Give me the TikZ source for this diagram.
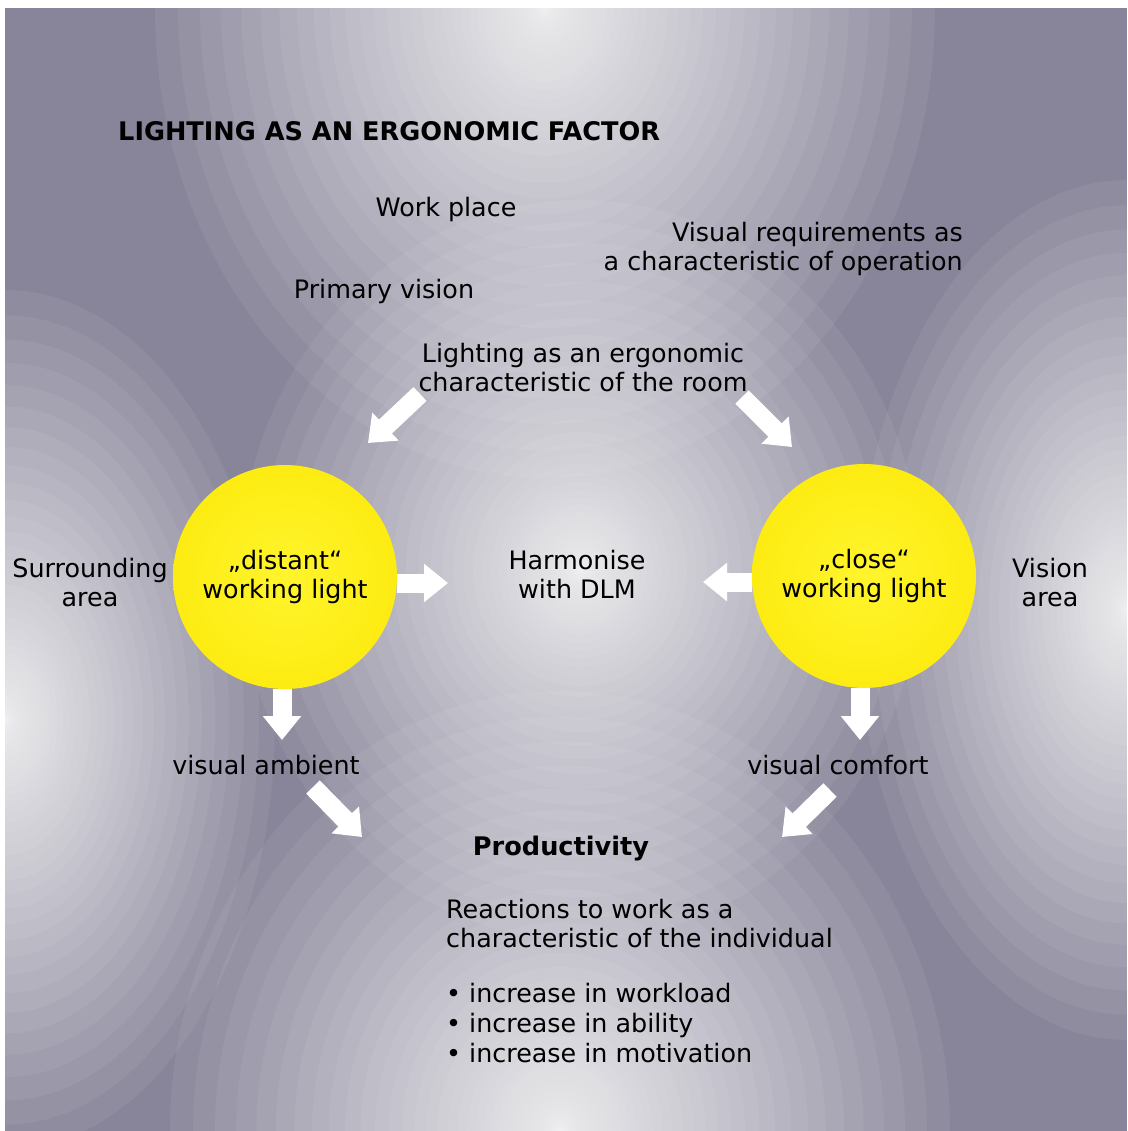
\documentclass[tikz,border=0pt]{standalone}
\usepackage{fontspec}
\setmainfont{DejaVu Sans}
\usetikzlibrary{arrows.meta}

\definecolor{steel}{RGB}{136,133,154}
\definecolor{lampin}{RGB}{255,244,45}
\definecolor{lampout}{RGB}{253,236,18}

\tikzstyle{label}=[font=\fontsize{25.4}{29}\selectfont, align=center, inner sep=0pt]
\tikzstyle{heading}=[font=\fontsize{25.6}{29}\selectfont\bfseries, inner sep=0pt]
\tikzstyle{lamp}=[circle, minimum size=224pt, inner sep=0pt, inner color=lampin, outer color=lampout,
                  font=\fontsize{25.4}{29}\selectfont, align=center]
\tikzstyle{blockarrow}=[draw=white, line width=19pt, -{Triangle[length=24pt,width=37pt]}]
\tikzstyle{glow}=[fill=white, fill opacity=0.06]

\begin{document}
\begin{tikzpicture}[x=1pt, y=-1pt]
                  \useasboundingbox (0,0) rectangle (1127,1131);
                  % Background with light spots
                  \fill[steel] (5,8) rectangle (1127,1131);
                  \begin{scope}
                        \clip (5,8) rectangle (1127,1131);
                        \foreach \cx/\cy/\rx/\ry in {545/8/390/470, 580/570/340/370,
                        560/1131/390/440, 5/720/270/430, 1127/610/270/430}
                              \foreach \k in {1,...,50}
                                    \fill[glow] (\cx,\cy) ellipse [x radius={\rx*(\k/50)^3}, y radius={\ry*(\k/50)^3}];
                  \end{scope}
                  % Texts
                  \node[heading, anchor=west] (title) at (118,131) {LIGHTING AS AN ERGONOMIC FACTOR};
                  \node[label] (work) at (446,209) {Work place};
                  \node[label, anchor=east, align=right] (visreq) at (963,249)
                        {Visual requirements as\\a characteristic of operation};
                  \node[label] (primary) at (384,291) {Primary vision};
                  \node[label] (room) at (583,368) {Lighting as an ergonomic\\characteristic of the room};
                  \node[label] (surround) at (90,583) {Surrounding\\area};
                  \node[label] (harmonise) at (577,574) {Harmonise\\with DLM};
                  \node[label] (vision) at (1050,583) {Vision\\area};
                  \node[label] (ambient) at (266,765) {visual ambient};
                  \node[label] (comfort) at (838,765) {visual comfort};
                  \node[heading] (prod) at (561,849) {Productivity};
                  \node[label, anchor=west, align=left] (reactions) at (446,924)
                        {Reactions to work as a\\characteristic of the individual};
                  \node[label, anchor=north west, align=left, font=\fontsize{25.4}{30}\selectfont] (gains) at (446,983)
                        {• increase in workload\\• increase in ability\\• increase in motivation};
                  % The two working lights
                  \node[lamp] (distant) at (285,577) {„distant“\\working light};
                  \node[lamp] (close) at (864,576) {„close“\\working light};
                  % Arrow ends
                  \coordinate (tlA) at (420,394);  \coordinate (tlB) at (368,443);
                  \coordinate (trA) at (742,397);  \coordinate (trB) at (792,447);
                  \coordinate (hlB) at (448,583);  \coordinate (hrB) at (703,582);
                  \coordinate (dlB) at (282,740);  \coordinate (drB) at (860,740);
                  \coordinate (blA) at (313,787);  \coordinate (blB) at (362,837);
                  \coordinate (brA) at (830,790);  \coordinate (brB) at (782,837);
                  % Block arrows
                  \foreach \source/\dest in {tlA/tlB, trA/trB, blA/blB, brA/brB}
                        \draw[blockarrow] (\source) -- (\dest);
                  \draw[blockarrow] (distant.east |- hlB) -- (hlB);
                  \draw[blockarrow] (close.west |- hrB) -- (hrB);
                  \draw[blockarrow] (distant.south -| dlB) -- (dlB);
                  \draw[blockarrow] (close.south -| drB) -- (drB);
            \end{tikzpicture}
\end{document}
